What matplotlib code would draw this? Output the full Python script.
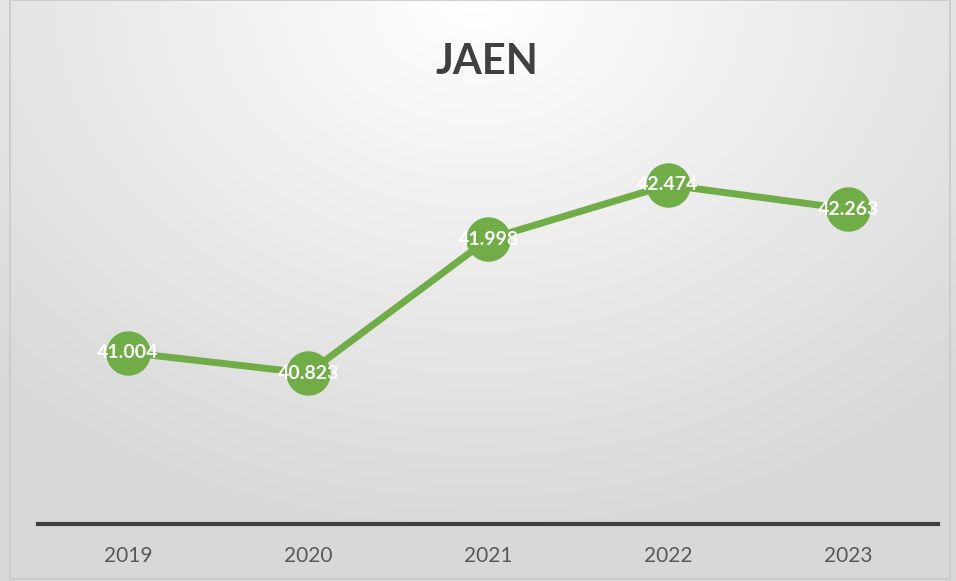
import numpy as np
import matplotlib.pyplot as plt

years = ["2019", "2020", "2021", "2022", "2023"]
values = [41.004, 40.823, 41.998, 42.474, 42.263]
labels = ["41.004", "40.823", "41.998", "42.474", "42.263"]

plt.rcParams['font.family'] = ['Lato', 'DejaVu Sans']

W, H = 956, 581
fig = plt.figure(figsize=(W / 100, H / 100), dpi=100)

# radial gradient background (white at top centre -> light grey)
bg = fig.add_axes([0, 0, 1, 1])
yy, xx = np.mgrid[0:H, 0:W]
r = np.sqrt(((xx - W * 0.5) / W) ** 2 + ((yy - 0) / H) ** 2 * 0.6)
shade = np.clip(1.0 - 0.16 * r / 0.75, 0.85, 1.0)
img = np.dstack([shade, shade, shade])
bg.imshow(img, extent=[0, W, H, 0], aspect='auto')
bg.set_xlim(0, W)
bg.set_ylim(H, 0)
bg.plot([10, 10, 950, 950, 10], [0, 579, 579, 0, 0], color='#c8c8c8', lw=1.2)
bg.axis('off')

ax = fig.add_axes([38 / W, 1 - 524 / H, 900 / W, (524 - 125) / H])
ax.patch.set_alpha(0)
x = np.arange(len(years))
ax.plot(x, values, color='#70ad47', lw=5, marker='o', markersize=31,
        markerfacecolor='#70ad47', markeredgecolor='#70ad47', solid_capstyle='round')
for xi, v, lab in zip(x, values, labels):
    ax.text(xi, v, lab, ha='center', va='center', color='white',
            fontsize=14, fontweight='bold')

ax.set_xlim(-0.5, len(years) - 0.5)
ax.set_ylim(39.5, 43.0)
ax.set_xticks(x)
ax.set_xticklabels(years, fontsize=15, color='#595959')
ax.tick_params(axis='x', length=0, pad=16)
ax.set_yticks([])
for s in ['top', 'right', 'left']:
    ax.spines[s].set_visible(False)
ax.spines['bottom'].set_color('#404040')
ax.spines['bottom'].set_linewidth(3)

fig.text(487 / W, 1 - 62 / H, "JAEN", ha='center', va='center',
         fontsize=30, fontweight='bold', color='#404040')

fig.savefig('out.png', dpi=100)
